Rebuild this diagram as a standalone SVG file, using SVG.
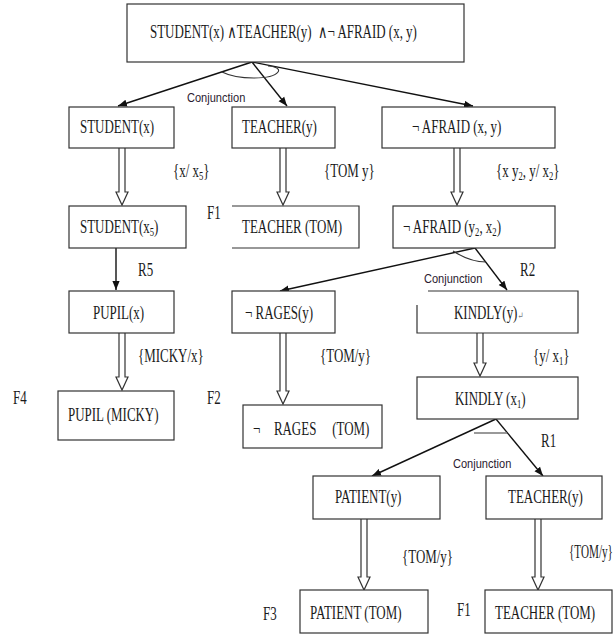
<svg xmlns="http://www.w3.org/2000/svg" width="613" height="634" viewBox="0 0 613 634">
<defs>
<marker id="ah" viewBox="0 0 10 10" refX="10" refY="5" markerWidth="9" markerHeight="9" markerUnits="userSpaceOnUse" orient="auto"><path d="M0,1 L10,5 L0,9 z" fill="#111"/></marker>
<style>
.box{fill:#fff;stroke:#333;stroke-width:1.2}
.open{fill:none;stroke:#333;stroke-width:1.2}
.t{font-family:"Liberation Serif","DejaVu Serif",serif;font-size:18px;fill:#1a1a1a}
.c{font-family:"Liberation Sans","DejaVu Sans",sans-serif;font-size:13px;fill:#2a1a30}
.sub{font-size:12px}
.dbl{fill:#fff;stroke:#333;stroke-width:1.2;stroke-linejoin:miter}
.ar{stroke:#111;stroke-width:1.4;fill:none;marker-end:url(#ah)}
.arc{stroke:#333;stroke-width:1.1;fill:none}
</style>
</defs>
<rect width="613" height="634" fill="#fff"/>

<g id="connectors">
<path class="ar" d="M252 62 L118 106"/>
<path class="ar" d="M252 62 L287 106"/>
<path class="ar" d="M252 62 L473 106"/>
<path class="arc" d="M222 72 C238 80 272 80 278 72 C281 68 272 66 268 66"/>
<path class="dbl" d="M119 148 V192 H116 L122 205 L128 192 H125 V148"/>
<path class="dbl" d="M280 148 V192 H277 L283 205 L289 192 H286 V148"/>
<path class="dbl" d="M454 148 V192 H451 L457 205 L463 192 H460 V148"/>
<path class="ar" d="M116 248 L116 290"/>
<path class="ar" d="M475 248 L280 291"/>
<path class="ar" d="M475 248 L507 290"/>
<path class="arc" d="M453 251 Q470 262 486 262"/>
<path class="dbl" d="M119 333 V377 H116 L122 390 L128 377 H125 V333"/>
<path class="dbl" d="M280 333 V391 H277 L283 404 L289 391 H286 V333"/>
<path class="dbl" d="M477 333 V363 H474 L480 376 L486 363 H483 V333"/>
<path class="ar" d="M496 419 L372 476"/>
<path class="ar" d="M496 419 L543 476"/>
<path d="M474 433 H507" stroke="#777" stroke-width="1.5"/>
<path class="dbl" d="M361 519 V577 H358 L364 590 L370 577 H367 V519"/>
<path class="dbl" d="M535 519 V577 H532 L538 590 L544 577 H541 V519"/>
</g>

<g id="labels">
<text class="c" transform="translate(187 102) scale(.85 1)">Conjunction</text>
<text class="c" transform="translate(424 283) scale(.85 1)">Conjunction</text>
<text class="c" transform="translate(453 468) scale(.85 1)">Conjunction</text>
<text class="t" transform="translate(173 177) scale(.72 1)">{x/ x<tspan class="sub" dy="3">5</tspan><tspan dy="-3">}</tspan></text>
<text class="t" transform="translate(324 177) scale(.72 1)">{TOM y}</text>
<text class="t" transform="translate(496 177) scale(.72 1)">{x y<tspan class="sub" dy="3">2</tspan><tspan dy="-3">, y/ x</tspan><tspan class="sub" dy="3">2</tspan><tspan dy="-3">}</tspan></text>
<text class="t" transform="translate(207 219) scale(.72 1)">F1</text>
<text class="t" transform="translate(138 276) scale(.72 1)">R5</text>
<text class="t" transform="translate(520 276) scale(.72 1)">R2</text>
<text class="t" transform="translate(138 362) scale(.72 1)">{MICKY/x}</text>
<text class="t" transform="translate(320 362) scale(.72 1)">{TOM/y}</text>
<text class="t" transform="translate(533 362) scale(.72 1)">{y/ x<tspan class="sub" dy="3">1</tspan><tspan dy="-3">}</tspan></text>
<text class="t" transform="translate(13 404) scale(.72 1)">F4</text>
<text class="t" transform="translate(207 404) scale(.72 1)">F2</text>
<text class="t" transform="translate(541 447) scale(.72 1)">R1</text>
<text class="t" transform="translate(402 563) scale(.72 1)">{TOM/y}</text>
<text class="t" transform="translate(569 558) scale(.62 1)">{TOM/y}</text>
<text class="t" transform="translate(263 620) scale(.72 1)">F3</text>
<text class="t" transform="translate(457 616) scale(.72 1)">F1</text>
</g>

<g id="n-root"><rect class="box" x="127" y="4" width="337" height="58"/>
<text class="t" xml:space="preserve" transform="translate(150 38) scale(.72 1)">STUDENT(x) ∧TEACHER(y)  ∧¬ AFRAID (x, y)</text></g>
<g id="n-student-x"><rect class="box" x="69" y="107" width="105" height="41"/>
<text class="t" transform="translate(80 133) scale(.72 1)">STUDENT(x)</text></g>
<g id="n-teacher-y"><rect class="box" x="232" y="107" width="103" height="41"/>
<text class="t" transform="translate(242 133) scale(.72 1)">TEACHER(y)</text></g>
<g id="n-afraid-xy"><rect class="box" x="382" y="107" width="173" height="41"/>
<text class="t" transform="translate(412 133) scale(.72 1)">¬ AFRAID (x, y)</text></g>
<g id="n-student-x5"><rect class="box" x="69" y="206" width="117" height="42"/>
<text class="t" transform="translate(80 233) scale(.72 1)">STUDENT(x<tspan class="sub" dy="3">5</tspan><tspan dy="-3">)</tspan></text></g>
<g id="n-teacher-tom"><path class="open" d="M232 206 H359 V248 H232"/>
<text class="t" transform="translate(242 233) scale(.72 1)">TEACHER (TOM)</text></g>
<g id="n-afraid-y2x2"><rect class="box" x="393" y="206" width="162" height="42"/>
<text class="t" transform="translate(403 233) scale(.72 1)">¬ AFRAID (y<tspan class="sub" dy="3">2</tspan><tspan dy="-3">, x</tspan><tspan class="sub" dy="3">2</tspan><tspan dy="-3">)</tspan></text></g>
<g id="n-pupil-x"><rect class="box" x="69" y="291" width="105" height="42"/>
<text class="t" transform="translate(93 319) scale(.72 1)">PUPIL(x)</text></g>
<g id="n-rages-y"><rect class="box" x="232" y="291" width="103" height="42"/>
<text class="t" transform="translate(245 319) scale(.72 1)">¬ RAGES(y)</text></g>
<g id="n-kindly-y"><path class="open" d="M417 305 V333 H578 V291 H428"/>
<text class="t" transform="translate(454 319) scale(.72 1)">KINDLY(y)<tspan font-size="10" fill="#777">↵</tspan></text></g>
<g id="n-kindly-x1"><rect class="box" x="417" y="377" width="161" height="42"/>
<text class="t" transform="translate(455 405) scale(.72 1)">KINDLY (x<tspan class="sub" dy="3">1</tspan><tspan dy="-3">)</tspan></text></g>
<g id="n-pupil-micky"><rect class="box" x="58" y="391" width="116" height="49"/>
<text class="t" transform="translate(68 421) scale(.72 1)">PUPIL (MICKY)</text></g>
<g id="n-rages-tom"><rect class="box" x="243" y="405" width="139" height="43"/>
<text class="t" transform="translate(253 435) scale(.72 1)">¬<tspan x="29">RAGES</tspan><tspan x="110">(TOM)</tspan></text></g>
<g id="n-patient-y"><rect class="box" x="313" y="476" width="127" height="43"/>
<text class="t" transform="translate(335 503) scale(.72 1)">PATIENT(y)</text></g>
<g id="n-teacher-y2"><rect class="box" x="486" y="476" width="116" height="43"/>
<text class="t" transform="translate(508 503) scale(.72 1)">TEACHER(y)</text></g>
<g id="n-patient-tom"><rect class="box" x="300" y="590" width="128" height="43"/>
<text class="t" transform="translate(310 619) scale(.72 1)">PATIENT (TOM)</text></g>
<g id="n-teacher-tom2"><rect class="box" x="485" y="590" width="127" height="43"/>
<text class="t" transform="translate(495 619) scale(.72 1)">TEACHER (TOM)</text></g>
</svg>
